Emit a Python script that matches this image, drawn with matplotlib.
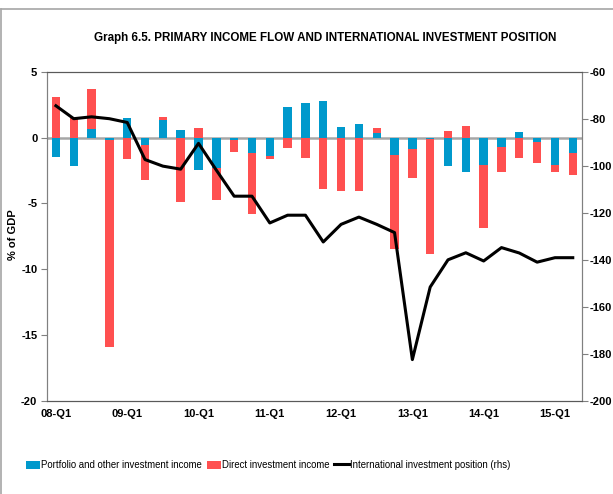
import numpy as np
import matplotlib
matplotlib.use("Agg")
import matplotlib.pyplot as plt
from matplotlib.lines import Line2D

plt.rcParams['font.family'] = ['Liberation Sans', 'DejaVu Sans']
plt.rcParams['axes.unicode_minus'] = False

# quarters 08-Q1 .. 15-Q2
quarters = [f"{y:02d}-Q{q}" for y in range(8, 16) for q in range(1, 5)][:30]
tick_labels = [q if q.endswith('Q1') else '' for q in quarters]

portfolio = [-1.5, -2.16, 0.7, -0.2, 1.53, -0.56, 1.35, 0.59, -2.47, -2.34,
             -0.2, -1.2, -1.4, 2.32, 2.62, 2.82, 0.84, 1.04, 0.33, -1.32,
             -0.89, -0.1, -2.16, -2.6, -2.09, -0.74, 0.43, -0.33, -2.11, -1.2]
direct = [3.13, 1.55, 3.0, -15.7, -1.63, -2.67, 0.25, -4.89, 0.74, -2.42,
          -0.92, -4.63, -0.25, -0.76, -1.53, -3.89, -4.07, -4.05, 0.41, -7.13,
          -2.14, -8.73, 0.53, 0.92, -4.81, -1.88, -1.53, -1.58, -0.49, -1.62]
iip = [-74.4, -79.9, -79.1, -79.9, -81.5, -97.3, -100.1, -101.4, -90.4, -101.8,
       -112.9, -112.9, -124.3, -121.0, -121.0, -132.4, -124.9, -121.8, -124.9, -128.4,
       -182.5, -151.6, -140.0, -137.0, -140.5, -134.8, -137.1, -141.0, -139.1, -139.1]

blue = '#0099CC'
red = '#FF5050'
grey = '#A6A6A6'

x = np.arange(len(quarters))
p = np.array(portfolio)
d = np.array(direct)
# excel-style stacking: same sign stacks on top, opposite sign starts at zero
d_bottom = np.where(np.sign(d) == np.sign(p), p, 0)

fig = plt.figure(figsize=(6.13, 4.94), dpi=100)
ax = fig.add_axes([0.0767, 0.1889, 0.8722, 0.6654])
ax.bar(x, p, width=0.47, color=blue, zorder=2, label='Portfolio and other investment income')
ax.bar(x, d, width=0.47, bottom=d_bottom, color=red, zorder=2, label='Direct investment income')
ax.axhline(0, color=grey, lw=1.8, zorder=1)

ax.set_xlim(-0.5, len(x) - 0.5)
ax.set_ylim(-20, 5)
ax.set_yticks(np.arange(-20, 6, 5))
ax.set_xticks(x)
ax.set_xticklabels(tick_labels, fontsize=8, fontweight='bold')
ax.tick_params(axis='x', length=0, pad=6)
ax.tick_params(axis='y', length=4, color='#808080', labelsize=8, pad=3)
for t in ax.get_yticklabels():
    t.set_fontweight('bold')
fig.text(0.022, 0.525, '% of GDP', rotation=90, ha='center', va='center',
         fontsize=8, fontweight='bold')

ax2 = ax.twinx()
ax2.plot(x, iip, color='black', lw=2.2, zorder=3, label='International investment position (rhs)')
ax2.set_ylim(-200, -60)
ax2.set_yticks(np.arange(-200, -59, 20))
ax2.tick_params(axis='y', length=4, color='#808080', labelsize=8, pad=2)
for t in ax2.get_yticklabels():
    t.set_fontweight('bold')

for a in (ax, ax2):
    a.spines['left'].set_color('#808080')
    a.spines['right'].set_color('#808080')
    a.spines['top'].set_color('#595959')
    a.spines['bottom'].set_color('#595959')

h1, l1 = ax.get_legend_handles_labels()
h2, l2 = ax2.get_legend_handles_labels()
fig.legend(h1 + h2, l1 + l2, loc='center', bbox_to_anchor=(0.437, 0.059), ncol=3,
           frameon=False, fontsize=6.9, handlelength=1.5, handleheight=0.9,
           handletextpad=0.1, columnspacing=0.5)

fig.text(0.53, 0.923, 'Graph 6.5. PRIMARY INCOME FLOW AND INTERNATIONAL INVESTMENT POSITION',
         ha='center', va='center', fontsize=8.4, fontweight='bold')

# outer frame lines (top and left)
fig.add_artist(Line2D([0.002, 1], [0.982, 0.982], color='#A6A6A6', lw=1.2))
fig.add_artist(Line2D([0.002, 0.002], [0, 0.982], color='#A6A6A6', lw=1.2))

fig.savefig('out.png', dpi=100)
